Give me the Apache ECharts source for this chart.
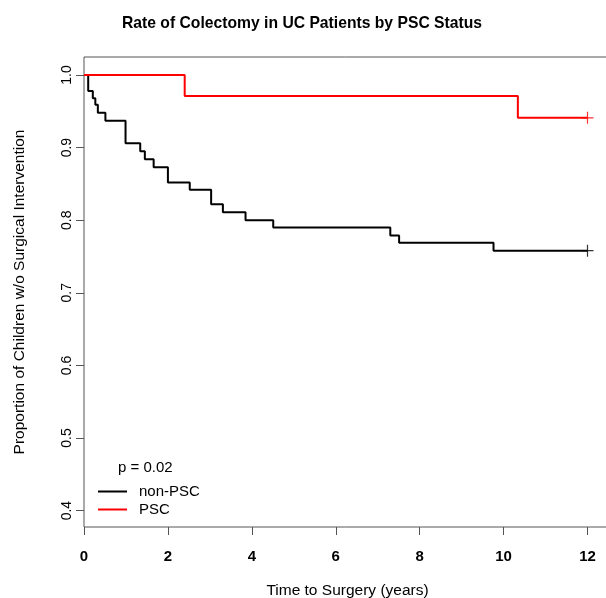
<!DOCTYPE html>
<html>
<head>
<meta charset="utf-8">
<script src="https://cdn.jsdelivr.net/npm/echarts@6/dist/echarts.min.js"></script>
<style>
  html, body { margin: 0; padding: 0; background: #fff; }
  #chart { width: 606px; height: 598px; }
</style>
</head>
<body>
<div id="chart"></div>
<script>
// Kaplan-Meier curves
const nonPscTime = [0, 0.10, 0.21, 0.27, 0.33, 0.51, 0.99, 1.34, 1.45, 1.66, 2.00, 2.52, 3.03, 3.31, 3.85, 4.51, 7.30, 7.51, 9.76, 12.0];
const nonPscSurv = [1.0, 0.978, 0.968, 0.959, 0.948, 0.937, 0.906, 0.895, 0.884, 0.873, 0.852, 0.842, 0.822, 0.811, 0.800, 0.790, 0.779, 0.769, 0.758, 0.758];
const pscTime = [0, 2.40, 10.34, 12.0];
const pscSurv = [1.0, 0.971, 0.941, 0.941];
// censored at end of follow-up
const censorTime = [12.0, 12.0];
const censorSurv = [0.758, 0.941];
const yTicks = [0.4, 0.5, 0.6, 0.7, 0.8, 0.9, 1.0];

const font = 'Liberation Sans';
const plus = 'path://M0,4.5h10v1h-10zM4.5,0h1v10h-1z';

const chart = echarts.init(document.getElementById('chart'));

const zip = (a, b) => a.map((v, i) => [v, b[i]]);

chart.setOption({
  animation: false,
  backgroundColor: '#fff',
  title: {
    text: 'Rate of Colectomy in UC Patients by PSC Status',
    left: 117,
    top: 11,
    textStyle: { fontFamily: font, fontSize: 15.7, fontWeight: 'bold', color: '#000' }
  },
  grid: {
    left: 84, top: 57, width: 527, height: 470,
    outerBoundsMode: 'none',
    show: true, borderColor: '#555', borderWidth: 1, backgroundColor: 'transparent'
  },
  legend: {
    orient: 'vertical',
    left: 93, top: 479,
    itemWidth: 29, itemHeight: 2, itemGap: 3,
    icon: 'rect',
    textStyle: { fontFamily: font, fontSize: 15, color: '#000', lineHeight: 15, padding: [0, 0, 0, 7] },
    data: ['non-PSC', 'PSC']
  },
  graphic: [{
    type: 'text', left: 118, top: 460,
    style: { text: 'p = 0.02', font: '15px "Liberation Sans"', fill: '#000' }
  }],
  xAxis: {
    type: 'value', min: 0, max: 12.56, interval: 2,
    name: 'Time to Surgery (years)', nameLocation: 'middle', nameGap: 56,
    nameTextStyle: { fontFamily: font, fontSize: 15.5, color: '#000' },
    axisLine: { show: false },
    axisTick: { show: true, length: 8, lineStyle: { color: '#555' } },
    axisLabel: { margin: 22, fontFamily: font, fontSize: 15, color: '#000', fontWeight: 'bold' },
    splitLine: { show: false }
  },
  yAxis: {
    type: 'value', min: 0.3774, max: 1.0248,
    name: 'Proportion of Children w/o Surgical Intervention', nameLocation: 'middle', nameGap: 56,
    nameTextStyle: { fontFamily: font, fontSize: 15.5, color: '#000' },
    axisLine: { show: false },
    axisTick: { show: true, length: 8, customValues: yTicks, lineStyle: { color: '#555' } },
    axisLabel: {
      customValues: yTicks, rotate: 90, margin: 10,
      fontFamily: font, fontSize: 14, color: '#000',
      formatter: v => v.toFixed(1)
    },
    splitLine: { show: false }
  },
  series: [
    {
      name: 'non-PSC', type: 'line', step: 'end', symbol: 'none',
      data: zip(nonPscTime, nonPscSurv),
      lineStyle: { color: '#000', width: 2 }, itemStyle: { color: '#000' }
    },
    {
      name: 'PSC', type: 'line', step: 'end', symbol: 'none',
      data: zip(pscTime, pscSurv),
      lineStyle: { color: '#f00', width: 2 }, itemStyle: { color: '#f00' }
    },
    {
      type: 'scatter', symbol: plus, symbolSize: 12,
      data: [zip(censorTime, censorSurv)[0]],
      itemStyle: { color: '#000' }
    },
    {
      type: 'scatter', symbol: plus, symbolSize: 12,
      data: [zip(censorTime, censorSurv)[1]],
      itemStyle: { color: '#f00' }
    }
  ]
});
</script>
</body>
</html>
